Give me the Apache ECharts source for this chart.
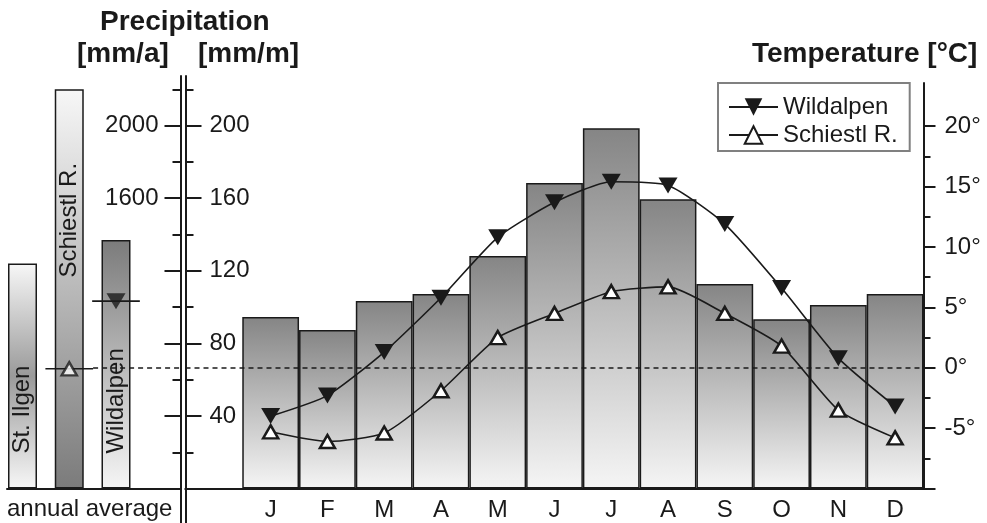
<!DOCTYPE html>
<html><head><meta charset="utf-8">
<script src="https://cdn.jsdelivr.net/npm/echarts@6/dist/echarts.min.js"></script>
<style>html,body{margin:0;padding:0;background:#fff}#c{width:987px;height:523px}</style>
</head><body><div id="c"></div>
<script>
// ---- data ----
const months = ['J','F','M','A','M','J','J','A','S','O','N','D'];
const monthlyPrecip = [94.5, 87.4, 103.4, 107.2, 128.2, 168.4, 198.5, 159.4, 112.7, 93.3, 101.1, 107.2];
const tempWildalpen = [-4.0, -2.3, 1.3, 5.8, 10.8, 13.7, 15.4, 15.1, 11.9, 6.6, 0.8, -3.2];
const tempSchiestl = [-5.3, -6.1, -5.4, -1.9, 2.5, 4.5, 6.3, 6.7, 4.5, 1.8, -3.5, -5.8];
const stations = ['St. Ilgen', 'Schiestl R.', 'Wildalpen'];
const annualPrecip = [1240, 2200, 1370];
const annualTempSchiestl = -0.1;
const annualTempWildalpen = 5.5;
const precipTicksMonthly = [40, 80, 120, 160, 200];
const precipMinorMonthly = [20, 60, 100, 140, 180, 220];
const precipTicksAnnual = [400, 800, 1200, 1600, 2000];
const precipLabelsAnnual = [1600, 2000];
const precipMinorAnnual = [200, 600, 1000, 1400, 1800, 2200];
const tempTicks = [-10, -5, 0, 5, 10, 15, 20];
const tempLabels = [-5, 0, 5, 10, 15, 20];
const tempMinor = [-7.5, -2.5, 2.5, 7.5, 12.5, 17.5];

// ---- styles ----
const FONT = 'Liberation Sans, Arial, Helvetica, sans-serif';
const INK = '#1a1a1a';
const grad = (stops) => ({type:'linear', x:0, y:0, x2:0, y2:1,
  colorStops: stops.map(s => ({offset:s[0], color:s[1]}))});
const annualGrads = [
  grad([[0,'#f7f7f7'],[0.5,'#9a9a9a'],[1,'#f7f7f7']]),
  grad([[0,'#f7f7f7'],[1,'#7b7b7b']]),
  grad([[0,'#7b7b7b'],[1,'#f5f5f5']])
];
const labelDist = [35, 211, 35];
const cats = [''].concat(months);
const pad = (arr) => ['-'].concat(arr);
const axisLineStyle = {color: INK, width: 2};
const noSplit = {show:false};
const plain = (v) => String(v);

const chart = echarts.init(document.getElementById('c'), null, {renderer:'canvas'});
const titleStyle = {fontSize:28, fontWeight:'bold', color:INK, fontFamily:FONT};

const option = {
  animation: false,
  backgroundColor: '#fff',
  textStyle: {fontFamily: FONT},
  title: [
    {text:'Precipitation', left:100, top:8, padding:0, textStyle:titleStyle},
    {text:'[mm/a]', left:77, top:40, padding:0, textStyle:titleStyle},
    {text:'[mm/m]', left:198, top:40, padding:0, textStyle:titleStyle},
    {text:'Temperature [°C]', left:752, top:40, padding:0, textStyle:titleStyle},
    {text:'annual average', left:7, top:497, padding:0, textStyle:{fontSize:24, fontWeight:'normal', color:INK, fontFamily:FONT}}
  ],
  legend: {
    orient:'vertical', left:718, top:83,
    padding:[12, 12, 4, 10], itemGap:4, itemWidth:49, itemHeight:22,
    borderColor:'#808080', borderWidth:2,
    textStyle:{fontSize:24, color:INK, fontFamily:FONT},
    data:['Wildalpen','Schiestl R.']
  },
  grid: [
    {left:7, top:76, width:173.5, height:447, containLabel:false, outerBoundsMode:'none'},
    {left:185.5, top:76, width:738, height:447, containLabel:false, outerBoundsMode:'none'},
    {left:185.5, top:83, width:738, height:405.6, containLabel:false, outerBoundsMode:'none'}
  ],
  xAxis: [
    {gridIndex:0, type:'value', min:-0.3316, max:3.3797,
      axisLine:{show:true, onZero:true, lineStyle:axisLineStyle},
      axisTick:{show:false}, axisLabel:{show:false}, splitLine:noSplit},
    {gridIndex:1, type:'category', data:cats, boundaryGap:true,
      axisLine:{show:true, onZero:true, lineStyle:axisLineStyle},
      axisTick:{show:false}, axisLabel:{show:false}, splitLine:noSplit},
    {gridIndex:2, type:'category', data:cats, boundaryGap:true, position:'bottom',
      axisLine:{show:true, onZero:false, lineStyle:axisLineStyle},
      axisTick:{show:false},
      axisLabel:{interval:0, fontSize:24, color:INK, margin:10, fontFamily:FONT},
      splitLine:noSplit}
  ],
  yAxis: [
    // 0: annual precipitation (mm/a)
    {gridIndex:0, type:'value', position:'right', min:-189.5, max:2273.3,
      axisLine:{show:true, onZero:false, lineStyle:axisLineStyle},
      axisTick:{show:true, inside:true, length:16, customValues:precipTicksAnnual, lineStyle:{color:INK, width:2}},
      axisLabel:{show:true, inside:true, margin:22, customValues:precipLabelsAnnual, formatter:plain, fontSize:24, color:INK, fontFamily:FONT},
      splitLine:noSplit},
    // 1: annual minor ticks
    {gridIndex:0, type:'value', position:'right', min:-189.5, max:2273.3,
      axisLine:{show:false, onZero:false},
      axisTick:{show:true, inside:true, length:8, customValues:precipMinorAnnual, lineStyle:{color:INK, width:2}},
      axisLabel:{show:false}, splitLine:noSplit},
    // 2: annual temperature (hidden)
    {gridIndex:0, type:'value', position:'left', min:-12.864, max:24.139, show:false,
      axisLine:{onZero:false}, splitLine:noSplit},
    // 3: monthly precipitation (mm/m)
    {gridIndex:1, type:'value', position:'left', min:-18.95, max:227.33,
      axisLine:{show:true, onZero:false, lineStyle:axisLineStyle},
      axisTick:{show:true, inside:true, length:16, customValues:precipTicksMonthly, lineStyle:{color:INK, width:2}},
      axisLabel:{show:true, inside:true, margin:24, customValues:precipTicksMonthly, formatter:plain, fontSize:24, color:INK, fontFamily:FONT},
      splitLine:noSplit},
    // 4: monthly minor ticks
    {gridIndex:1, type:'value', position:'left', min:-18.95, max:227.33,
      axisLine:{show:false, onZero:false},
      axisTick:{show:true, inside:true, length:8, customValues:precipMinorMonthly, lineStyle:{color:INK, width:2}},
      axisLabel:{show:false}, splitLine:noSplit},
    // 5: temperature
    {gridIndex:2, type:'value', position:'right', min:-10, max:23.576,
      axisLine:{show:true, onZero:false, lineStyle:axisLineStyle},
      axisTick:{show:true, inside:false, length:12, customValues:tempTicks, lineStyle:{color:INK, width:2}},
      axisLabel:{show:true, margin:21, customValues:tempLabels, formatter:'{value}°', fontSize:24, color:INK, fontFamily:FONT},
      splitLine:noSplit},
    // 6: temperature minor ticks
    {gridIndex:2, type:'value', position:'right', min:-10, max:23.576,
      axisLine:{show:false, onZero:false},
      axisTick:{show:true, inside:false, length:7, customValues:tempMinor, lineStyle:{color:INK, width:2}},
      axisLabel:{show:false}, splitLine:noSplit}
  ],
  series: [
    {
      name:'annual precipitation', type:'bar', xAxisIndex:0, yAxisIndex:0, barWidth:29,
      data: annualPrecip.map((v, i) => ({
        value:[i, v],
        itemStyle:{color:annualGrads[i]},
        label:{distance:labelDist[i]}
      })),
      itemStyle:{borderColor:INK, borderWidth:1.5},
      label:{show:true, formatter:(p) => stations[p.dataIndex], rotate:90, position:'insideBottom',
        align:'left', verticalAlign:'middle', fontSize:24, color:INK, fontFamily:FONT},
      z:2
    },
    {
      name:'annual Schiestl line', type:'line', xAxisIndex:0, yAxisIndex:2, symbol:'none',
      data:[[1 - 0.51, annualTempSchiestl], [1 + 0.51, annualTempSchiestl]],
      lineStyle:{color:INK, width:1.6}, z:3,
      markLine:{silent:true, symbol:['none','none'], label:{show:false},
        lineStyle:{color:INK, width:1.5, type:[5,4]},
        data:[[{coord:[1 + 0.51, 0]}, {coord:[3.3797, 0]}]]}
    },
    {
      name:'annual Wildalpen line', type:'line', xAxisIndex:0, yAxisIndex:2, symbol:'none',
      data:[[2 - 0.51, annualTempWildalpen], [2 + 0.51, annualTempWildalpen]],
      lineStyle:{color:INK, width:1.6}, z:3
    },
    {
      name:'annual Schiestl', type:'scatter', xAxisIndex:0, yAxisIndex:2,
      symbol:'triangle', symbolSize:[15,13],
      itemStyle:{color:'#fff', borderColor:INK, borderWidth:2.5},
      data:[[1, annualTempSchiestl]], z:4
    },
    {
      name:'annual Wildalpen', type:'scatter', xAxisIndex:0, yAxisIndex:2,
      symbol:'triangle', symbolRotate:180, symbolSize:[19,16],
      itemStyle:{color:INK},
      data:[[2, annualTempWildalpen]], z:4
    },
    {
      name:'monthly precipitation', type:'bar', xAxisIndex:1, yAxisIndex:3,
      barCategoryGap:'0%', data:pad(monthlyPrecip),
      itemStyle:{color:grad([[0,'#858585'],[1,'#f5f5f5']]), borderColor:INK, borderWidth:1.5},
      z:2
    },
    {
      name:'Wildalpen', type:'line', xAxisIndex:2, yAxisIndex:5, data:pad(tempWildalpen),
      smooth:0.2, showAllSymbol:true, symbol:'triangle', symbolRotate:180, symbolSize:[19,16],
      itemStyle:{color:INK, borderWidth:0},
      lineStyle:{color:INK, width:1.6}, z:4,
      markLine:{silent:true, symbol:['none','none'], label:{show:false},
        lineStyle:{color:INK, width:1.5, type:[5,4]},
        data:[{yAxis:0}]}
    },
    {
      name:'Schiestl R.', type:'line', xAxisIndex:2, yAxisIndex:5, data:pad(tempSchiestl),
      smooth:0.2, showAllSymbol:true, symbol:'triangle', symbolSize:[15,13],
      itemStyle:{color:'#fff', borderColor:INK, borderWidth:2.5},
      lineStyle:{color:INK, width:1.6}, z:4
    }
  ]
};
chart.setOption(option);
</script>
</body></html>
